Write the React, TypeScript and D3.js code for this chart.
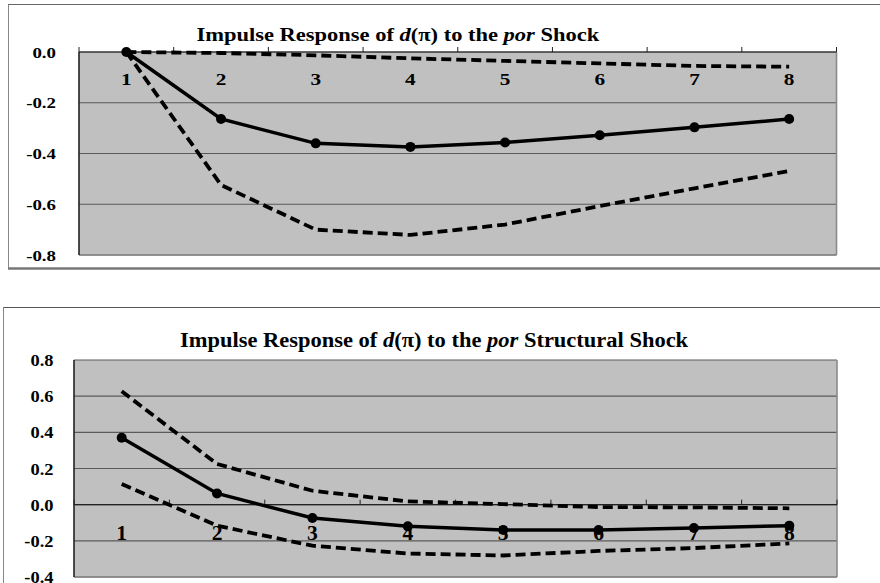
import React from "react";
import * as d3 from "d3";

const periods = ["1", "2", "3", "4", "5", "6", "7", "8"];

const topResponse = [0, -0.264, -0.36, -0.374, -0.357, -0.328, -0.297, -0.264];
const topUpper = [0, -0.004, -0.013, -0.025, -0.035, -0.045, -0.055, -0.058];
const topLower = [0, -0.524, -0.7, -0.721, -0.68, -0.607, -0.537, -0.469];
const topTicks = [0, -0.2, -0.4, -0.6, -0.8];

const bottomResponse = [0.37, 0.062, -0.074, -0.12, -0.14, -0.14, -0.129, -0.116];
const bottomUpper = [0.627, 0.225, 0.077, 0.018, 0.003, -0.013, -0.015, -0.02];
const bottomLower = [0.114, -0.116, -0.227, -0.27, -0.281, -0.256, -0.24, -0.214];
const bottomTicks = [0.8, 0.6, 0.4, 0.2, 0, -0.2, -0.4];

const FONT = "'Liberation Serif', 'Times New Roman', serif";

type Panel = {
  response: number[];
  upper: number[];
  lower: number[];
  ticks: number[];
  plot: { x0: number; x1: number; y0: number; y1: number };
  structural: boolean;
  title: { x: number; y: number; size: number; sx: number };
  ylab: { right: number; size: number; sx: number; dy: number };
  cat: { size: number; sx: number; dy: number };
};

const panels: Panel[] = [
  {
    response: topResponse,
    upper: topUpper,
    lower: topLower,
    ticks: topTicks,
    plot: { x0: 79, x1: 836.5, y0: 52, y1: 255 },
    structural: false,
    title: { x: 196.5, y: 41, size: 18, sx: 1.25 },
    ylab: { right: 56, size: 14.5, sx: 1.3, dy: 5.5 },
    cat: { size: 17, sx: 1.25, dy: 32.5 },
  },
  {
    response: bottomResponse,
    upper: bottomUpper,
    lower: bottomLower,
    ticks: bottomTicks,
    plot: { x0: 74, x1: 837, y0: 360, y1: 577 },
    structural: true,
    title: { x: 180, y: 347, size: 20, sx: 1.125 },
    ylab: { right: 53.5, size: 16, sx: 1.15, dy: 6 },
    cat: { size: 20, sx: 1.08, dy: 35 },
  },
];

function ChartPanel({ p }: { p: Panel }) {
  const { x0, x1, y0, y1 } = p.plot;
  const yMax = d3.max(p.ticks) as number;
  const yMin = d3.min(p.ticks) as number;
  const y = d3.scaleLinear().domain([yMin, yMax]).range([y1, y0]);
  const band = d3.scaleBand<string>().domain(periods).range([x0, x1]).padding(0);
  const cx = (c: string) => (band(c) as number) + band.bandwidth() / 2;
  const boundaries = [...periods.map((c) => band(c) as number), x1];
  const axisY = y(0);

  const line = d3
    .line<number>()
    .x((_, i) => cx(periods[i]))
    .y((v) => y(v));

  const t = p.title;
  return (
    <g>
      <rect x={x0} y={y0} width={x1 - x0} height={y1 - y0} fill="#c0c0c0" />
      {p.ticks.map((v) => (
        <line key={"g" + v} x1={x0} x2={x1} y1={y(v)} y2={y(v)} stroke="#5a5a5a" strokeWidth={1.2} />
      ))}
      <line x1={x1} x2={x1} y1={y0} y2={y1} stroke="#8a8a8a" strokeWidth={1.6} />
      <line x1={x0} x2={x1} y1={y1} y2={y1} stroke="#8a8a8a" strokeWidth={1.6} />
      <line x1={x0} x2={x0} y1={y0} y2={y1} stroke="#222" strokeWidth={1.6} />
      <line x1={x0} x2={x1} y1={axisY} y2={axisY} stroke="#222" strokeWidth={1.2} />
      {boundaries.map((bx, i) => (
        <line key={"t" + i} x1={bx} x2={bx} y1={axisY} y2={axisY - 5} stroke="#222" strokeWidth={1} />
      ))}
      {p.ticks.map((v) => (
        <text
          key={"yl" + v}
          transform={`translate(${p.ylab.right},${y(v) + p.ylab.dy}) scale(${p.ylab.sx},1)`}
          textAnchor="end"
          fontFamily={FONT}
          fontWeight="bold"
          fontSize={p.ylab.size}
          fill="#000"
        >
          {v.toFixed(1)}
        </text>
      ))}
      {periods.map((c) => (
        <text
          key={"c" + c}
          transform={`translate(${cx(c)},${axisY + p.cat.dy}) scale(${p.cat.sx},1)`}
          textAnchor="middle"
          fontFamily={FONT}
          fontWeight="bold"
          fontSize={p.cat.size}
          fill="#000"
        >
          {c}
        </text>
      ))}
      <path d={line(p.upper) || ""} fill="none" stroke="#000" strokeWidth={3.8} strokeDasharray="10,5" />
      <path d={line(p.lower) || ""} fill="none" stroke="#000" strokeWidth={3.8} strokeDasharray="10,5" />
      <path d={line(p.response) || ""} fill="none" stroke="#000" strokeWidth={3.5} />
      {p.response.map((v, i) => (
        <circle key={"m" + i} cx={cx(periods[i])} cy={y(v)} r={5} fill="#000" />
      ))}
      <text
        transform={`translate(${t.x},${t.y}) scale(${t.sx},1)`}
        fontFamily={FONT}
        fontWeight="bold"
        fontSize={t.size}
        fill="#000"
      >
        <tspan>Impulse Response of </tspan>
        <tspan fontStyle="italic">d</tspan>
        <tspan>(π) to the </tspan>
        <tspan fontStyle="italic">por</tspan>
        <tspan>{p.structural ? " Structural Shock" : " Shock"}</tspan>
      </text>
    </g>
  );
}

export default function App() {
  return (
    <svg
      width={880}
      height={583}
      style={{ position: "absolute", left: 0, top: 0, background: "#fff" }}
    >
      <rect x={0} y={0} width={880} height={583} fill="#fff" />
      <line x1={8} x2={880} y1={4.5} y2={4.5} stroke="#666" strokeWidth={1} />
      <line x1={8.5} x2={8.5} y1={4.5} y2={268} stroke="#888" strokeWidth={1} />
      <line x1={8} x2={880} y1={268.5} y2={268.5} stroke="#777" strokeWidth={2.5} />
      <line x1={3} x2={880} y1={307.5} y2={307.5} stroke="#555" strokeWidth={1} />
      <line x1={3.5} x2={3.5} y1={307.5} y2={583} stroke="#888" strokeWidth={1} />
      {panels.map((p, i) => (
        <ChartPanel key={i} p={p} />
      ))}
    </svg>
  );
}
